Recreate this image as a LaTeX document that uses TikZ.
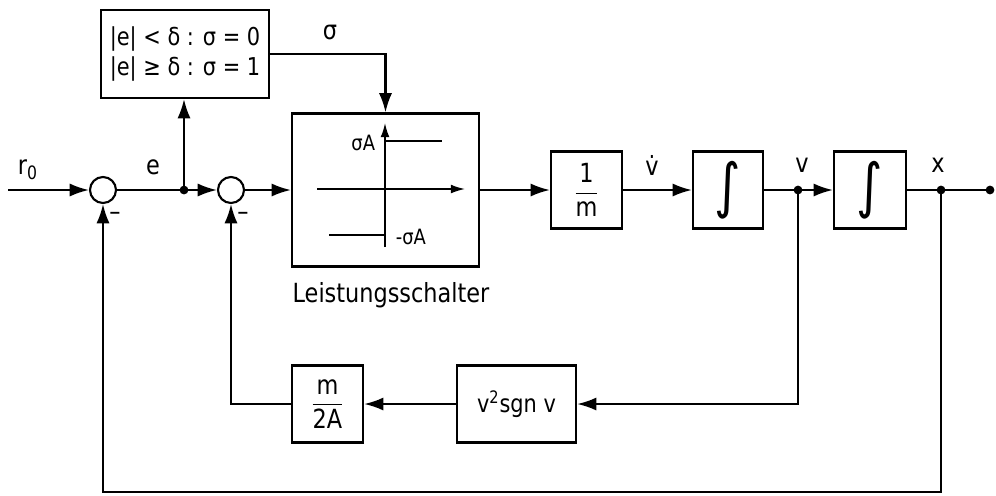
\documentclass[tikz,border=0pt]{standalone}
\usepackage{fontspec}
\setmainfont{DejaVu Sans}[FakeStretch=0.85]
\usepackage{amsmath}
\usetikzlibrary{arrows.meta,positioning,calc}

\begin{document}
\begin{tikzpicture}[x=0.02cm,y=-0.02cm,line width=1.2pt,
  >={Latex[length=11pt,width=7.5pt]},
  every node/.style={font=\fontsize{15pt}{18pt}\selectfont},
  blk/.style={draw,line width=1.3pt,minimum height=1.54cm,inner sep=2pt},
  sum/.style={draw,circle,minimum size=0.52cm,inner sep=0pt},
  dot/.style={circle,fill,inner sep=0pt,minimum size=5pt},
  small/.style={font=\fontsize{12pt}{14pt}\selectfont},
  intsign/.style={font=\fontsize{34pt}{34pt}\selectfont}]
  \useasboundingbox (0,0) rectangle (996,495);
  % summing points and branch points
  \coordinate (in) at (8,190);
  \node[sum] (sumA) at (103,190) {};
  \coordinate (ej) at (184,190);
  \node[sum] (sumB) at (231,190) {};
  \coordinate (vj) at (798,190);
  \coordinate (xj) at (941,190);
  \coordinate (out) at (990,190);
  \coordinate (xb) at (941,492);
  % blocks
  \node[blk,minimum width=3.36cm,minimum height=1.76cm,align=center,font=\fontsize{14pt}{17pt}\selectfont] (logic) at (185,54) {|e| < δ : σ = 0\\|e| ≥ δ : σ = 1};
  \node[blk,minimum width=3.74cm,minimum height=3.06cm] (relay) at (385.5,190) {};
  \node[blk,minimum width=1.42cm] (gain) at (586.5,190) {$\dfrac{\text{1}}{\text{m}}$};
  \node[blk,minimum width=1.4cm,intsign] (intA) at (728,190) {∫};
  \node[blk,minimum width=1.44cm,intsign] (intB) at (870,190) {∫};
  \node[blk,minimum width=2.38cm,font=\fontsize{14pt}{17pt}\selectfont] (sgnv) at (516.5,404) {v\textsuperscript{2}sgn v};
  \node[blk,minimum width=1.42cm] (fbgain) at (327.5,404) {$\dfrac{\text{m}}{\text{2A}}$};
  % characteristic of the switch
  \draw[->,line width=0.9pt,>={Latex[length=8pt,width=5pt]}] (317,189) -- (465,189);
  \draw[->,line width=0.9pt,>={Latex[length=8pt,width=5pt]}] (385,247) -- (385,123);
  \draw[line width=1.5pt] (329,235) -- (385,235) -- (385,141) -- (442,141);
  \node[small,anchor=east] (pA) at (382,143) {σA};
  \node[small,anchor=west] (nA) at (389,237) {-σA};
  % labels
  \node (r0) at (28,170) {r\textsubscript{0}};
  \node (elab) at (153,167) {e};
  \node (sig) at (330,32) {σ};
  \node (vdot) at (652,165) {\.v};
  \node (vlab) at (802,165) {v};
  \node (xlab) at (938,165) {x};
  \node (mA) at (115,216) {–};
  \node (mB) at (243,216) {–};
  \node (lsch) at (391,295) {Leistungsschalter};
  % forward path
  \draw[->] (in) -- (sumA);
  \draw (sumA) -- (ej);
  \draw[->] (ej) -- (sumB);
  \draw[->] (ej) -- (ej |- logic.south);
  \draw[->] (logic.east) -| (relay.north);
  \draw[->] (sumB) -- (relay);
  \draw[->] (relay) -- (gain);
  \draw[->] (gain) -- (intA);
  \draw (intA) -- (vj);
  \draw[->] (vj) -- (intB);
  \draw (intB) -- (out);
  % feedback paths
  \draw[->] (vj) |- (sgnv.east);
  \draw[->] (sgnv) -- (fbgain);
  \draw[->] (fbgain.west) -| (sumB.south);
  \draw[->] (xj) -- (xb) -| (sumA.south);
  \foreach \p in {ej,vj,xj,out} \node[dot] at (\p) {};
\end{tikzpicture}
\end{document}
